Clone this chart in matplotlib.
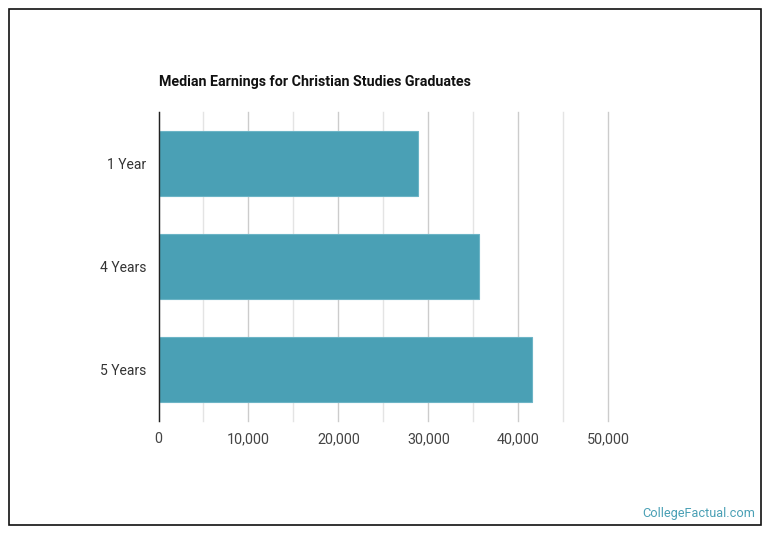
import matplotlib
matplotlib.use("Agg")
import matplotlib.pyplot as plt
from matplotlib.ticker import MultipleLocator, FuncFormatter
from matplotlib.patches import Rectangle

categories = ["1 Year", "4 Years", "5 Years"]
earnings = [28900, 35650, 41550]
x_ticks = [0, 10000, 20000, 30000, 40000, 50000]

plt.rcParams['font.family'] = ['Roboto', 'DejaVu Sans']

W, H = 770, 536
fig = plt.figure(figsize=(W / 100, H / 100), dpi=100)
fig.patch.set_facecolor("white")

left, right, top, bottom = 158.5, 608.3, 112, 421
ax = fig.add_axes([left / W, 1 - bottom / H, (right - left) / W, (bottom - top) / H])

ypos = list(range(len(categories)))
ax.barh(ypos, earnings, height=0.63, color="#4aa0b5", edgecolor="#6cb4c6", linewidth=0.8, zorder=3)
ax.set_ylim(len(categories) - 0.5, -0.5)
ax.set_xlim(0, 50000)
ax.set_yticks(ypos)
ax.set_yticklabels(categories, fontsize=10, color="#333333")
ax.set_xticks(x_ticks)
ax.xaxis.set_minor_locator(MultipleLocator(5000))
ax.xaxis.set_major_formatter(FuncFormatter(lambda v, p: f"{int(v):,}"))
ax.tick_params(axis="x", which="both", length=0, labelsize=10.4, labelcolor="#444444", pad=8)
ax.tick_params(axis="y", length=0, pad=9)

ax.grid(axis="x", which="major", color="#cccccc", linewidth=1, zorder=0)
ax.grid(axis="x", which="minor", color="#e4e4e4", linewidth=1, zorder=0)
for t in ax.xaxis.get_major_ticks() + ax.xaxis.get_minor_ticks():
    t.gridline.set_clip_on(False)

for s in ["top", "right", "bottom"]:
    ax.spines[s].set_visible(False)
ax.spines["left"].set_color("#222222")
ax.spines["left"].set_linewidth(1)
ax.spines["left"].set_zorder(4)

fig.text(159 / W, 1 - 82 / H, "Median Earnings for Christian Studies Graduates",
         fontsize=10.25, fontweight="bold", color="#111111", ha="left", va="center")

fig.text(755 / W, 1 - 513 / H, "CollegeFactual.com", fontsize=9.2, color="#4aa0b5",
         ha="right", va="center")

fig.add_artist(Rectangle((8.5 / W, 1 - 524.5 / H), (760.5 - 8.5) / W, (524.5 - 8.5) / H,
                         transform=fig.transFigure, fill=False, edgecolor="#111111", linewidth=1.2))

fig.savefig("out.png", dpi=100, facecolor="white")
